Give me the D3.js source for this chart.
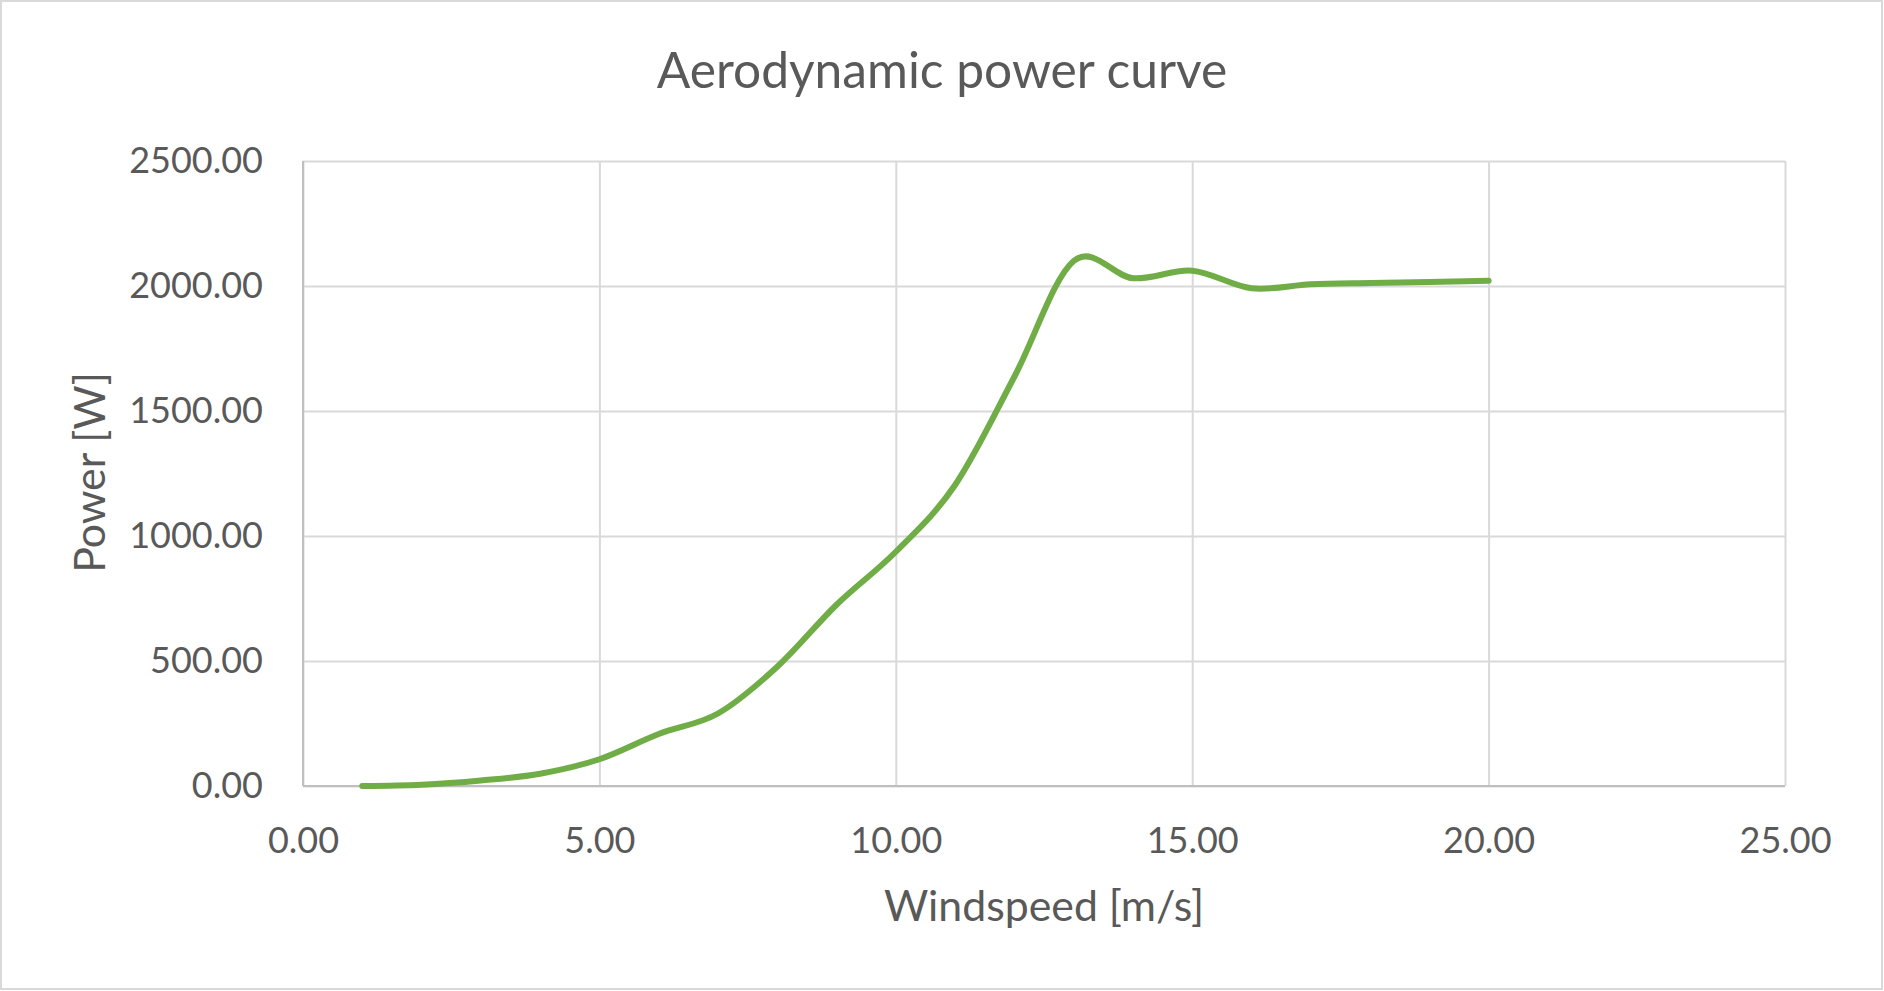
<!DOCTYPE html>
<html>
<head>
<meta charset="utf-8">
<script src="https://cdn.jsdelivr.net/npm/d3@7"></script>
<style>
  html, body { margin: 0; padding: 0; background: #ffffff; }
  svg { display: block; }
  text { font-family: Lato, "Open Sans", sans-serif; fill: #595959; }
</style>
</head>
<body>
<svg id="chart" width="1884" height="991"></svg>
<script>
// ---- data ----
const windspeed = [1, 2, 3, 4, 5, 6, 7, 8, 9, 10, 11, 12, 13, 14, 15, 16, 17, 18, 19, 20];
const power = [0, 5, 22, 49, 107, 208, 290, 477, 725, 937, 1204, 1637, 2100, 2031, 2061, 1991, 2007, 2012, 2016, 2021];
const xTicks = [0, 5, 10, 15, 20, 25];
const yTicks = [0, 500, 1000, 1500, 2000, 2500];
const chartTitle = "Aerodynamic power curve";
const xTitle = "Windspeed [m/s]";
const yTitle = "Power [W]";

// ---- layout ----
const W = 1884, H = 991;
const plot = { left: 303, right: 1785, top: 161, bottom: 786 };
const svg = d3.select("#chart");

svg.append("rect")
  .attr("x", 1).attr("y", 1).attr("width", W - 3).attr("height", H - 3)
  .attr("fill", "#ffffff").attr("stroke", "#d9d9d9").attr("stroke-width", 2);

const x = d3.scaleLinear().domain([0, 25]).range([plot.left, plot.right]);
const y = d3.scaleLinear().domain([0, 2500]).range([plot.bottom, plot.top]);

// vertical gridlines + x labels
const xAxis = svg.append("g")
  .attr("transform", `translate(0,${plot.bottom})`)
  .call(d3.axisBottom(x).tickValues(xTicks).tickFormat(d3.format(".2f"))
        .tickSize(-(plot.bottom - plot.top)).tickPadding(41));
xAxis.select(".domain").remove();
xAxis.selectAll("line").attr("stroke", "#d9d9d9").attr("stroke-width", 2);
xAxis.selectAll("text").attr("font-size", 36).attr("fill", "#595959")
  .style("font-family", "Lato, 'Open Sans', sans-serif");

// horizontal gridlines + y labels
const yAxis = svg.append("g")
  .attr("transform", `translate(${plot.left},0)`)
  .call(d3.axisLeft(y).tickValues(yTicks).tickFormat(d3.format(".2f"))
        .tickSize(-(plot.right - plot.left)).tickPadding(40));
yAxis.select(".domain").remove();
yAxis.selectAll("line").attr("stroke", "#d9d9d9").attr("stroke-width", 2);
yAxis.selectAll("text").attr("font-size", 36).attr("fill", "#595959")
  .style("font-family", "Lato, 'Open Sans', sans-serif");

// axis lines
svg.append("line")
  .attr("x1", plot.left).attr("x2", plot.right)
  .attr("y1", y(0)).attr("y2", y(0))
  .attr("stroke", "#bfbfbf").attr("stroke-width", 2);
svg.append("line")
  .attr("x1", x(0)).attr("x2", x(0))
  .attr("y1", plot.top).attr("y2", plot.bottom)
  .attr("stroke", "#bfbfbf").attr("stroke-width", 2);

// series line
const pts = windspeed.map((v, i) => [v, power[i]]);
const line = d3.line()
  .x(d => x(d[0])).y(d => y(d[1]))
  .curve(d3.curveCardinal.tension(0));
svg.append("path")
  .attr("d", line(pts))
  .attr("fill", "none")
  .attr("stroke", "#70ad47")
  .attr("stroke-width", 6)
  .attr("stroke-linecap", "round")
  .attr("stroke-linejoin", "round");

// titles
svg.append("text")
  .attr("x", W / 2).attr("y", 88)
  .attr("text-anchor", "middle").attr("font-size", 49.7)
  .text(chartTitle);

svg.append("text")
  .attr("x", (plot.left + plot.right) / 2).attr("y", 921)
  .attr("text-anchor", "middle").attr("font-size", 42.8)
  .text(xTitle);

svg.append("text")
  .attr("transform", `translate(105,${(plot.top + plot.bottom) / 2 - 1}) rotate(-90)`)
  .attr("text-anchor", "middle").attr("font-size", 42.8)
  .text(yTitle);
</script>
</body>
</html>
